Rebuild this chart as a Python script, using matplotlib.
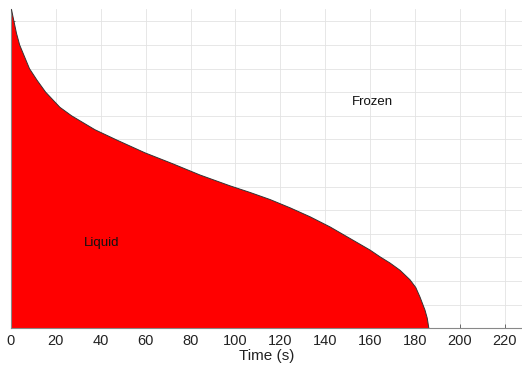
import matplotlib.pyplot as plt

# front position (time in s, height in grid units)
time_s = [0, 0.31, 1.34, 2.45, 3.88, 8.24, 11.6, 15.46, 21.8, 27.0, 37.4, 47.2,
          59.7, 71.7, 84.2, 97.6, 106.5, 115.4, 124.3, 133.2, 142.1, 151.0, 159.9,
          164.4, 168.8, 173.3, 177.7, 180.3, 182.2, 184.4, 185.4, 186.1]
front = [13.52, 13.47, 13.0, 12.5, 12.0, 11.0, 10.51, 10.0, 9.36, 9.0, 8.41, 7.97,
         7.43, 6.98, 6.49, 6.03, 5.75, 5.45, 5.10, 4.72, 4.29, 3.80, 3.31,
         3.02, 2.76, 2.45, 2.05, 1.72, 1.31, 0.76, 0.42, 0.0]
xticks = list(range(0, 221, 20))
yticks = list(range(1, 14))

plt.rcParams['font.family'] = ['Liberation Sans', 'DejaVu Sans']

fig = plt.figure(figsize=(5.22, 3.67), dpi=100)
ax = fig.add_axes([0.021, 0.106, 0.979, 0.869])

ax.fill_between(time_s, 0, front, facecolor='#ff0000', edgecolor='none', zorder=2)
ax.plot(time_s, front, color='#333333', lw=0.7, zorder=3)

ax.set_xlim(0, 227.6)
ax.set_ylim(0, 13.52)
ax.set_xticks(xticks)
ax.set_yticks(yticks)
ax.set_yticklabels([])
ax.grid(True, color='#e3e3e3', lw=0.6, zorder=0)
ax.set_axisbelow(True)
ax.tick_params(direction='in', length=3, width=0.6, color='#555555',
               labelsize=10.5, labelcolor='#222222', pad=4)
for side in ['top', 'right']:
    ax.spines[side].set_visible(False)
for side in ['left', 'bottom']:
    ax.spines[side].set_color('#888888')
    ax.spines[side].set_linewidth(0.8)

ax.set_xlabel('Time (s)', fontsize=11, color='#222222', labelpad=1)
ax.text(160.8, 9.58, 'Frozen', fontsize=9.5, ha='center', va='center', color='#111111')
ax.text(40.5, 3.6, 'Liquid', fontsize=9.5, ha='center', va='center', color='#111111')

fig.savefig('out.png', dpi=100)
